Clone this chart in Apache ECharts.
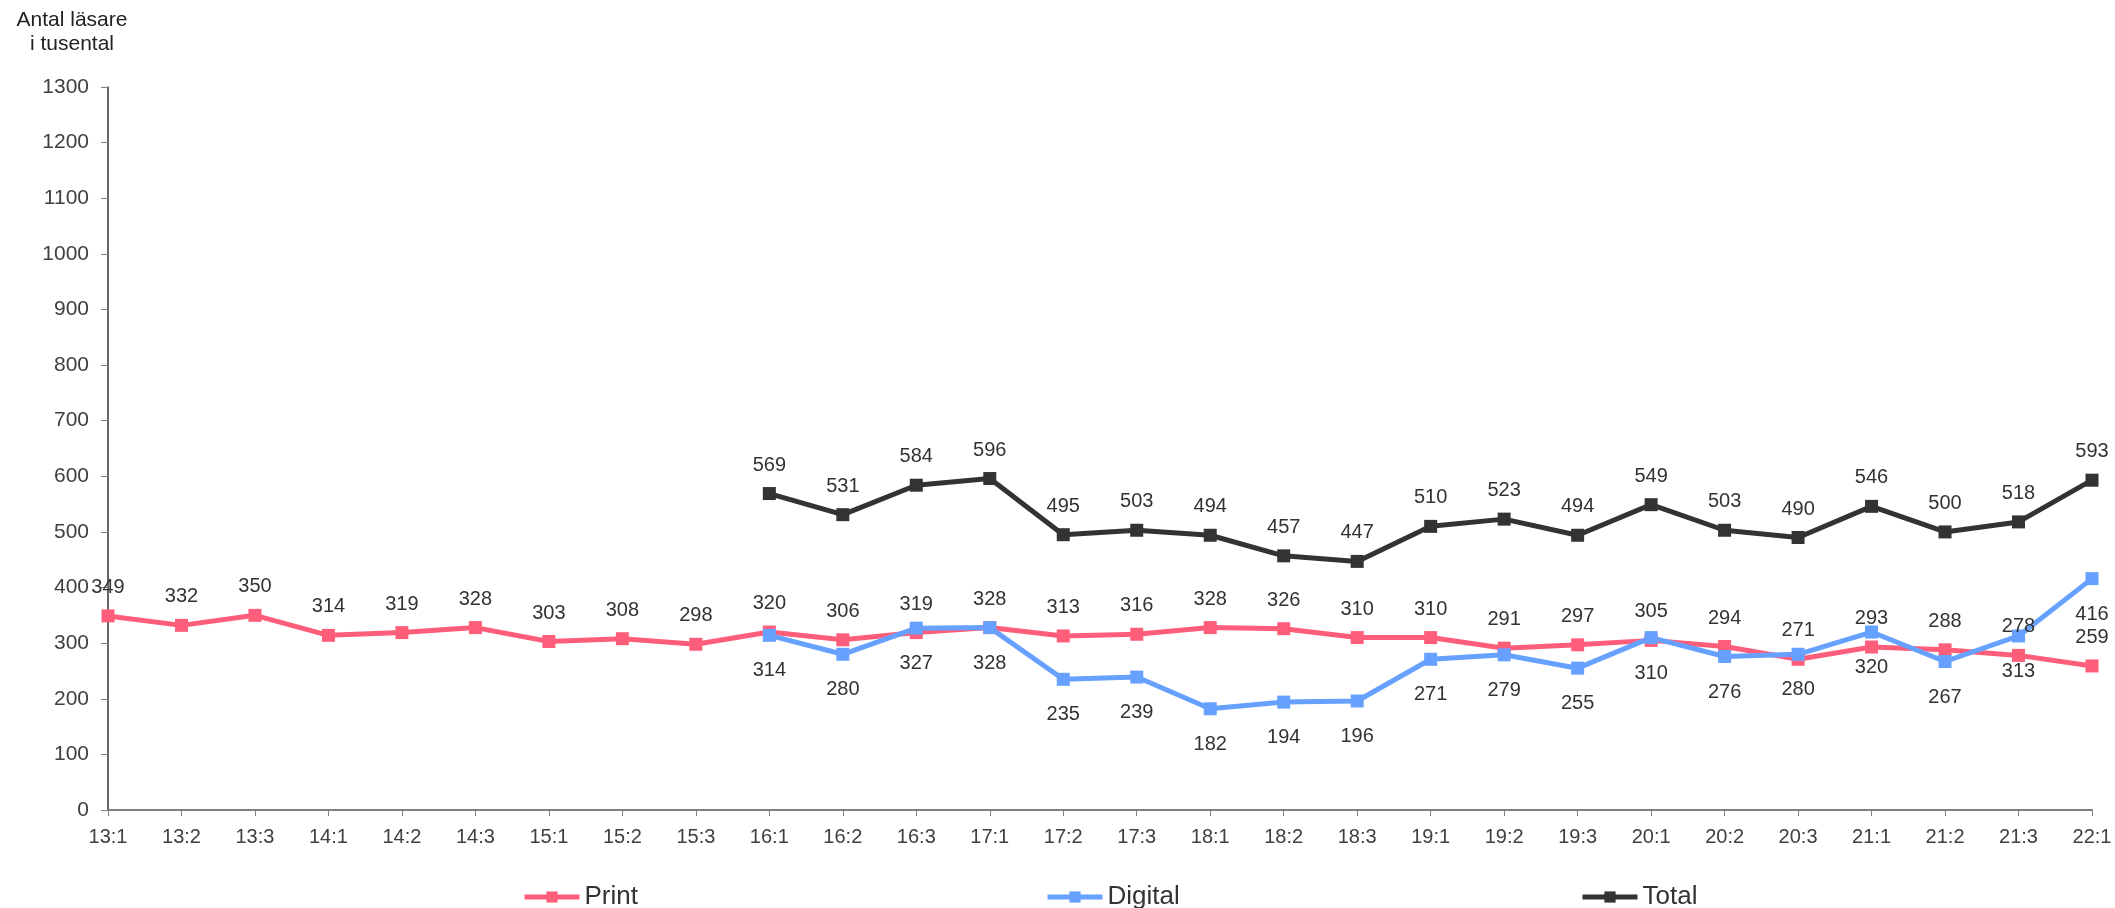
<!DOCTYPE html>
<html>
<head>
<meta charset="utf-8">
<script src="https://cdn.jsdelivr.net/npm/echarts@6/dist/echarts.min.js"></script>
<style>
html,body{margin:0;padding:0;background:#fff;}
#c{width:2115px;height:908px;}
</style>
</head>
<body>
<div id="c"></div>
<script>
const categories = ['13:1','13:2','13:3','14:1','14:2','14:3','15:1','15:2','15:3','16:1','16:2','16:3','17:1','17:2','17:3','18:1','18:2','18:3','19:1','19:2','19:3','20:1','20:2','20:3','21:1','21:2','21:3','22:1'];
const printValues = [349,332,350,314,319,328,303,308,298,320,306,319,328,313,316,328,326,310,310,291,297,305,294,271,293,288,278,259];
const digitalValues = [null,null,null,null,null,null,null,null,null,314,280,327,328,235,239,182,194,196,271,279,255,310,276,280,320,267,313,416];
const totalValues = [null,null,null,null,null,null,null,null,null,569,531,584,596,495,503,494,457,447,510,523,494,549,503,490,546,500,518,593];
const yTitle = 'Antal läsare\ni tusental';

const FONT = "'Liberation Sans', Arial, sans-serif";
const C_PRINT = '#FF5E7B';
const C_DIGITAL = '#66A1FF';
const C_TOTAL = '#333333';

const chart = echarts.init(document.getElementById('c'));
function mkSeries(name, data, color, pos, dist) {
  return {
    name: name, type: 'line', data: data,
    symbol: 'rect', symbolSize: 13,
    lineStyle: {color: color, width: 5},
    itemStyle: {color: color},
    connectNulls: false,
    animation: false,
    label: {show: true, position: pos, distance: dist, fontFamily: FONT, fontSize: 20, color: '#333333'}
  };
}
function mkLegend(name, left) {
  return {
    data: [name], left: left, top: 879, itemWidth: 55, itemHeight: 14, itemGap: 0,
    lineStyle: {width: 5},
    textStyle: {fontFamily: FONT, fontSize: 26, color: '#333333', padding: [0,0,0,0]}
  };
}
chart.setOption({
  animation: false,
  backgroundColor: '#ffffff',
  grid: {left: 108, right: 23, top: 87, bottom: 98},
  graphic: [{
    type: 'text', x: 72, y: 8,
    style: {text: yTitle, font: '21px ' + FONT, fill: '#222222', align: 'center', verticalAlign: 'top', lineHeight: 24}
  }],
  legend: [mkLegend('Print', 517), mkLegend('Digital', 1040), mkLegend('Total', 1575)],
  xAxis: {
    type: 'category', data: categories, boundaryGap: false,
    axisLine: {lineStyle: {color: '#808080', width: 2}},
    axisTick: {show: true, length: 6, lineStyle: {color: '#808080'}},
    axisLabel: {fontFamily: FONT, fontSize: 20, color: '#404040', margin: 17, interval: 0}
  },
  yAxis: {
    type: 'value', min: 0, max: 1300, interval: 100,
    splitLine: {show: false},
    axisLine: {show: true, lineStyle: {color: '#333333', width: 1.5}},
    axisTick: {show: true, length: 7, lineStyle: {color: '#808080'}},
    axisLabel: {fontFamily: FONT, fontSize: 21, color: '#404040', margin: 19, formatter: function (v) { return String(v); }}
  },
  series: [
    mkSeries('Print', printValues, C_PRINT, 'top', 12),
    mkSeries('Digital', digitalValues, C_DIGITAL, 'bottom', 19),
    mkSeries('Total', totalValues, C_TOTAL, 'top', 12)
  ]
});
</script>
</body>
</html>
